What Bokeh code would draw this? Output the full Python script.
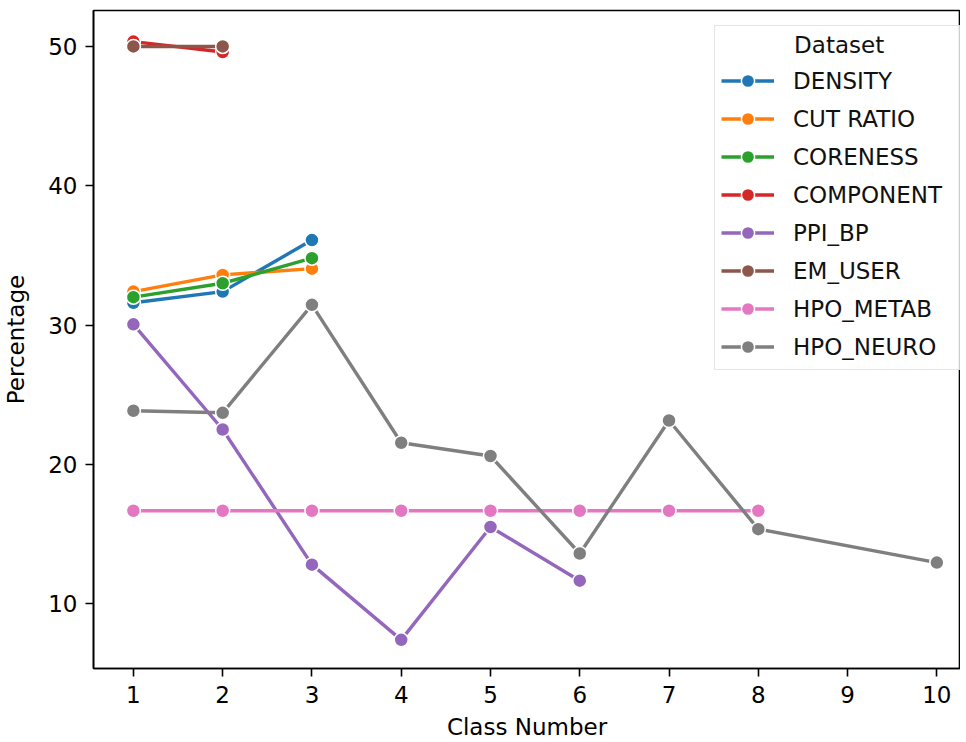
from bokeh.plotting import figure
from bokeh.models import Range1d, FixedTicker, Legend, LegendItem
from bokeh.embed import file_html
from bokeh.resources import INLINE

# ---- data ----
series_names = ["DENSITY", "CUT RATIO", "CORENESS", "COMPONENT", "PPI_BP",
                "EM_USER", "HPO_METAB", "HPO_NEURO"]
colors = ["#1f77b4", "#ff7f0e", "#2ca02c", "#d62728", "#9467bd",
          "#8c564b", "#e377c2", "#7f7f7f"]

density_x = [1, 2, 3]
density_y = [31.6, 32.4, 36.1]
cut_ratio_x = [1, 2, 3]
cut_ratio_y = [32.4, 33.6, 34.05]
coreness_x = [1, 2, 3]
coreness_y = [32.0, 33.0, 34.8]
component_x = [1, 2]
component_y = [50.35, 49.6]
ppi_bp_x = [1, 2, 3, 4, 5, 6]
ppi_bp_y = [30.05, 22.5, 12.8, 7.4, 15.5, 11.65]
em_user_x = [1, 2]
em_user_y = [50.0, 50.0]
hpo_metab_x = [1, 2, 3, 4, 5, 6, 7, 8]
hpo_metab_y = [16.67, 16.67, 16.67, 16.67, 16.67, 16.67, 16.67, 16.67]
hpo_neuro_x = [1, 2, 3, 4, 5, 6, 7, 8, 10]
hpo_neuro_y = [23.85, 23.7, 31.45, 21.55, 20.6, 13.6, 23.15, 15.35, 12.95]

x_ticks = [1, 2, 3, 4, 5, 6, 7, 8, 9, 10]
y_ticks = [10, 20, 30, 40, 50]
legend_title = "Dataset"

series_x = [density_x, cut_ratio_x, coreness_x, component_x, ppi_bp_x,
            em_user_x, hpo_metab_x, hpo_neuro_x]
series_y = [density_y, cut_ratio_y, coreness_y, component_y, ppi_bp_y,
            em_user_y, hpo_metab_y, hpo_neuro_y]

FONT = "DejaVu Sans"
FS = "23px"

p = figure(width=960, height=742, output_backend="svg", toolbar_location=None,
           x_range=Range1d(0.553, 10.265), y_range=Range1d(5.345, 52.58),
           min_border_left=90, min_border_right=0, min_border_top=10,
           min_border_bottom=60)
p.background_fill_color = "white"
p.border_fill_color = "white"
p.grid.visible = False
p.outline_line_color = "black"
p.outline_line_width = 1.6

for ax in (p.xaxis[0], p.yaxis[0]):
    ax.axis_line_width = 1.6
    ax.axis_line_color = "black"
    ax.major_tick_line_width = 1.6
    ax.major_tick_line_color = "black"
    ax.major_tick_out = 8
    ax.major_tick_in = 0
    ax.minor_tick_out = 0
    ax.minor_tick_in = 0
    ax.major_label_text_font = FONT
    ax.major_label_text_font_size = FS
    ax.major_label_text_color = "black"
    ax.axis_label_text_font = FONT
    ax.axis_label_text_font_size = FS
    ax.axis_label_text_font_style = "normal"
    ax.axis_label_text_color = "black"

p.xaxis.ticker = FixedTicker(ticks=x_ticks)
p.yaxis.ticker = FixedTicker(ticks=y_ticks)
p.xaxis.axis_label = "Class Number"
p.yaxis.axis_label = "Percentage"
p.xaxis.major_label_standoff = 9
p.xaxis.axis_label_standoff = 8
p.yaxis.major_label_standoff = 8
p.yaxis.axis_label_standoff = 16

items = []
for name, c, xs, ys in zip(series_names, colors, series_x, series_y):
    r1 = p.line(xs, ys, line_color=c, line_width=3.4)
    r2 = p.scatter(xs, ys, size=14, fill_color=c, line_color="white", line_width=1.5)
    items.append(LegendItem(label=name, renderers=[r1, r2]))

legend = Legend(items=items, location=(621, 298),
                title="\u00a0" * 10 + legend_title,
                title_text_font=FONT, title_text_font_size=FS,
                title_text_color="#111111", title_text_font_style="normal",
                title_standoff=6,
                label_text_font=FONT, label_text_font_size=FS,
                label_text_color="#111111",
                glyph_width=53, glyph_height=33, label_height=33,
                label_width=164, label_standoff=19, spacing=5, padding=6,
                border_line_color="#cccccc", border_line_width=1.5,
                background_fill_color="white", background_fill_alpha=0.8)
p.add_layout(legend)

open("out.html", "w").write(file_html(p, INLINE))
